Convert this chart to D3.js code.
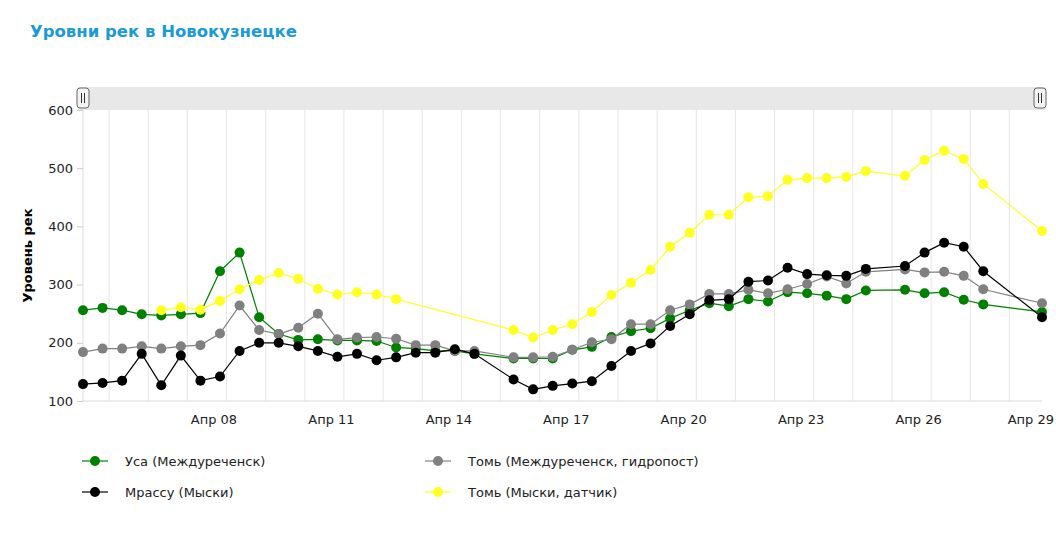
<!DOCTYPE html>
<html><head><meta charset="utf-8">
<script src="https://cdn.jsdelivr.net/npm/d3@7"></script>
<style>
body{margin:0;background:#fff;font-family:"DejaVu Sans",Verdana,sans-serif;}
</style></head>
<body><svg id="svg" width="1056" height="535"></svg>
<script>
// half-day slots from 4 Apr 16:00; null = no reading
var t0 = new Date(2014, 3, 4, 16);
var slots = [0,1,2,3,4,5,6,7,8,9,10,11,12,13,14,15,16,17,18,19,20,
  22,23,24,25,26,27,28,29,30,31,32,33,34,35,36,37,38,39,40,42,43,44,45,46,49];

var series = [
  {name: 'Уса (Междуреченск)', color: 'green', values: [
    256,260,256,249,247,249,251,323,355,244,215,205,206,204,204,203,192,190,186,186,181,
    173,173,173,188,193,210,220,225,242,256,268,263,275,271,287,285,281,275,290,291,285,287,274,266,253]},
  {name: 'Томь (Междуреченск, гидропост)', color: 'grey', values: [
    184,190,190,194,190,194,196,216,264,222,215,226,250,206,209,210,207,196,196,186,186,
    175,175,176,188,201,206,232,232,256,266,284,284,291,285,292,301,314,302,322,326,321,322,315,292,268]},
  {name: 'Мрассу (Мыски)', color: 'black', values: [
    129,131,135,181,127,178,135,142,186,200,200,194,186,176,181,170,175,183,183,189,181,
    137,120,126,130,134,160,186,199,229,249,273,275,305,307,329,318,316,315,327,332,355,372,365,323,244]},
  {name: 'Томь (Мыски, датчик)', color: '#ffff22', values: [
    null,null,null,null,256,261,257,272,292,308,320,310,293,283,287,283,275,null,null,null,null,
    222,209,222,232,253,282,303,325,365,389,420,420,450,452,480,483,483,485,495,487,514,530,516,473,392]}
];

var svg = d3.select('#svg');
var m = {top: 110, right: 14, bottom: 134, left: 83};
var width = 1056 - m.left - m.right, height = 535 - m.top - m.bottom;

function slotDate(s) { return new Date(t0.getTime() + s * 12 * 3600 * 1000); }

var x = d3.scaleTime()
  .domain([slotDate(0), slotDate(49)])
  .range([0, width]);
var y = d3.scaleLinear().domain([100, 600]).range([height, 0]);

svg.append('text').attr('x', 30).attr('y', 37)
  .attr('fill', '#1a9ad6').attr('font-weight', 'bold').attr('font-size', 16.5)
  .text('Уровни рек в Новокузнецке');

// scrollbar
svg.append('rect').attr('x', 78).attr('y', 87).attr('width', 968).attr('height', 23).attr('fill', '#e8e8e8');
[83, 1040].forEach(function (hx) {
  var h = svg.append('g').attr('transform', 'translate(' + hx + ',98)');
  h.append('rect').attr('x', -6).attr('y', -10).attr('width', 12).attr('height', 20).attr('rx', 3)
    .attr('fill', '#f2f2f2').attr('stroke', '#666');
  h.append('path').attr('d', 'M-1.5,-5V5M1.5,-5V5').attr('stroke', '#333');
});

var g = svg.append('g').attr('transform', 'translate(' + m.left + ',' + m.top + ')');

// daily grid
var days = d3.timeDay.range(x.domain()[0], x.domain()[1]).map(function (d) {
  return d3.timeHour.offset(d, 8);
}).filter(function (d) { return d > x.domain()[0] && d < x.domain()[1]; });
g.append('g').selectAll('line').data(days).enter().append('line')
  .attr('x1', function (d) { return x(d); }).attr('x2', function (d) { return x(d); })
  .attr('y1', 0).attr('y2', height).attr('stroke', '#e6e6e6');

g.append('line').attr('x1', 0).attr('x2', 0).attr('y1', 0).attr('y2', height).attr('stroke', '#ddd');
g.append('line').attr('x1', 0).attr('x2', width).attr('y1', height).attr('y2', height).attr('stroke', '#ddd');

var yAxis = g.append('g').call(d3.axisLeft(y).tickValues([100, 200, 300, 400, 500, 600]).tickSize(6).tickPadding(4));
yAxis.select('.domain').remove();
yAxis.selectAll('line').attr('stroke', '#ccc');
yAxis.selectAll('text').attr('font-size', 13).attr('fill', '#222').attr('font-family', 'DejaVu Sans');

var fmt = function (d) { return 'Апр ' + d3.timeFormat('%d')(d); };
var xAxis = g.append('g').attr('transform', 'translate(0,' + height + ')')
  .call(d3.axisBottom(x).tickValues(d3.range(8, 30, 3).map(function (d) { return new Date(2014, 3, d); }))
    .tickFormat(fmt).tickSize(0).tickPadding(14));
xAxis.select('.domain').remove();
xAxis.selectAll('text').attr('font-size', 13).attr('fill', '#222').attr('font-family', 'DejaVu Sans');
// keep the last label inside the page
xAxis.selectAll('.tick:last-of-type text').attr('text-anchor', 'end').attr('dx', 18);

svg.append('text').attr('transform', 'translate(32,' + (m.top + height / 2) + ') rotate(-90)')
  .attr('text-anchor', 'middle').attr('font-weight', 'bold').attr('font-size', 13)
  .text('Уровень рек');

var line = d3.line().x(function (d) { return x(d.date); }).y(function (d) { return y(d.v); });

series.forEach(function (s) {
  var pts = [];
  s.values.forEach(function (v, i) {
    if (v !== null) pts.push({date: slotDate(slots[i]), v: v});
  });
  var sg = g.append('g');
  sg.append('path').datum(pts).attr('d', line).attr('fill', 'none')
    .attr('stroke', s.color).attr('stroke-width', 1.2);
  sg.selectAll('circle').data(pts).enter().append('circle')
    .attr('cx', function (d) { return x(d.date); }).attr('cy', function (d) { return y(d.v); })
    .attr('r', 5).attr('fill', s.color);
});

// legend
var lg = svg.append('g');
series.forEach(function (s, i) {
  var lx = i % 2 ? 425 : 82, ly = i < 2 ? 461 : 492;
  var it = lg.append('g').attr('transform', 'translate(' + lx + ',' + ly + ')');
  it.append('line').attr('x1', 0).attr('x2', 26).attr('stroke', s.color).attr('stroke-width', 1.2);
  it.append('circle').attr('cx', 13).attr('r', 5).attr('fill', s.color);
  it.append('text').attr('x', 43).attr('y', 5).attr('font-size', 13).attr('fill', '#222').text(s.name);
});
</script>
</body></html>
